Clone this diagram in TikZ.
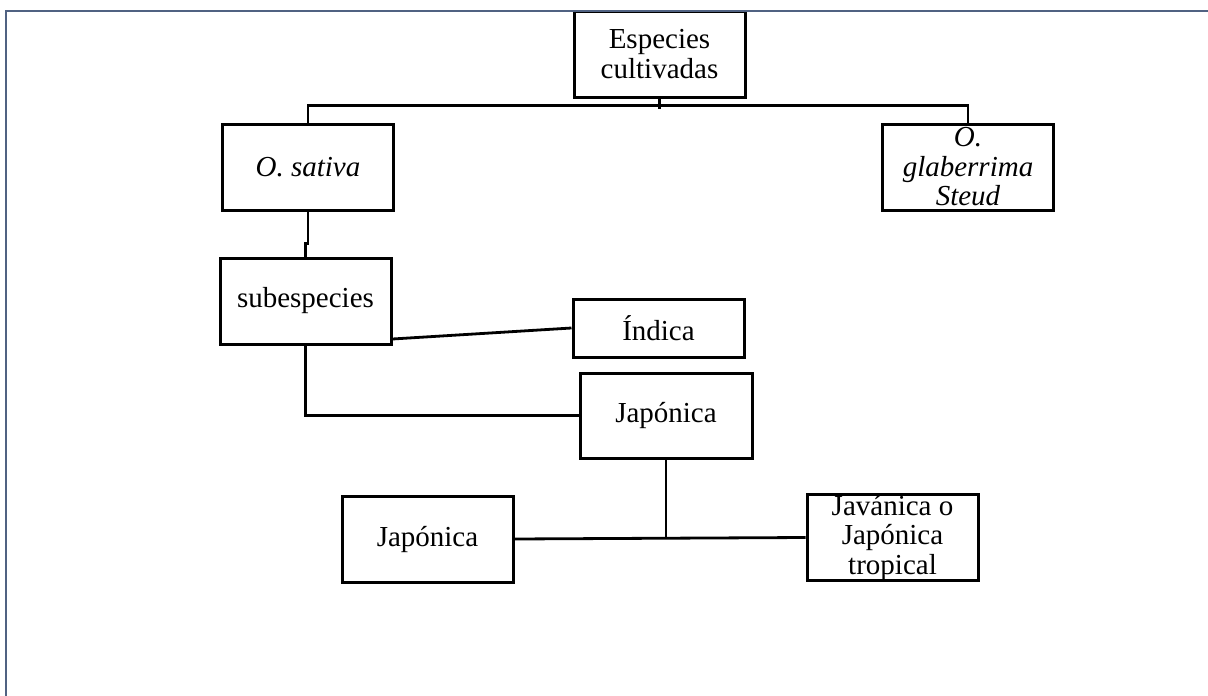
\documentclass[tikz,border=0pt]{standalone}
\usepackage{fontspec}
\setmainfont{Liberation Serif}
\definecolor{pageframe}{RGB}{80,98,130}
\begin{document}
\begin{tikzpicture}[x=1pt,y=-1pt]
                \tikzstyle{every node}=[rectangle, draw, line width=3pt, inner sep=0pt, align=center,
                    minimum width=171pt, minimum height=86pt, font=\fontsize{29}{29.5}\selectfont]
                \tikzstyle{link}=[line width=2.8pt]
                \useasboundingbox (0,0) rectangle (1208,696);
                \node (esp) at (659.5,54) {Especies\\cultivadas};
                \node (sativa) at (308,167) {\itshape O. sativa};
                \node (glab) at (968,167) {\itshape O.\\\itshape glaberrima\\\itshape Steud};
                \node (subesp) at (305.5,301) {subespecies};
                \node[minimum height=58pt] (indica) at (658.5,328) {Índica};
                \node[minimum width=172pt, minimum height=85pt] (japmid) at (666,415.5) {Japónica};
                \node (japleft) at (427.5,539) {Japónica};
                \node[minimum height=85pt] (javan) at (892.5,537.5) {Javánica o\\Japónica\\tropical};

                \draw[link] (esp.south) -- ++(0,10);
                \draw[link] (sativa.north) -- ++(0,-17) -| (glab.north);
                \draw[link] (sativa.south) -- ++(0,32) -| (subesp.north);
                \draw[link] ([yshift=-38pt]subesp.east) -- (indica.west);
                \draw[link] (subesp.south) |- (japmid.west);
                \draw[link] (japmid.south) -- (japmid.south |- japleft.east);
                \draw[link] (japleft.east) -- (javan.west);

                \draw[pageframe, line width=2.2pt] (6,696) -- (6,11) -- (1208,11);
            \end{tikzpicture}
\end{document}
